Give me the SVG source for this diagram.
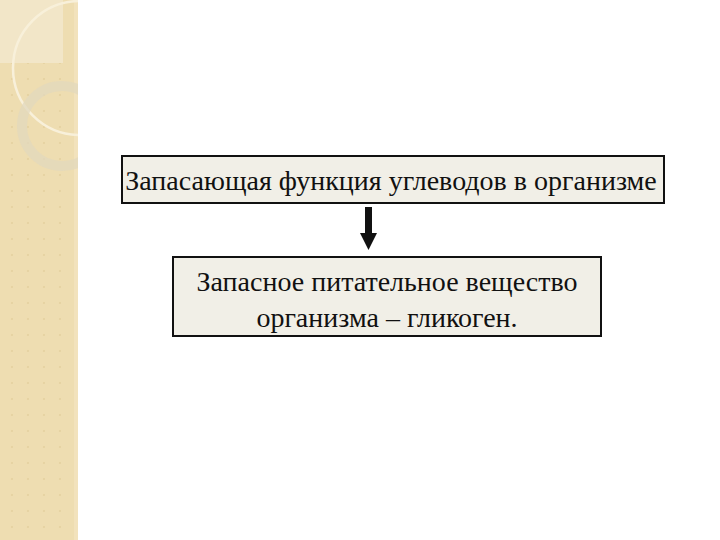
<svg xmlns="http://www.w3.org/2000/svg" width="720" height="540" viewBox="0 0 720 540">
<style>
.box{fill:#F1EFE7;stroke:#111;stroke-width:2}
.t{font-family:"Liberation Serif","Times New Roman",serif;font-size:28px;fill:#111;text-anchor:middle}
</style>
<defs>
<pattern id="dots" width="16" height="16" patternUnits="userSpaceOnUse">
<circle cx="12" cy="15" r="1.2" fill="#E6D3A3"/>
</pattern>
<clipPath id="strip"><rect x="0" y="0" width="78" height="540"/></clipPath>
</defs>
<rect width="720" height="540" fill="#fff"/>
<g id="decor" clip-path="url(#strip)">
<rect x="0" y="0" width="78" height="540" fill="#EEDDB1"/>
<rect x="0" y="0" width="78" height="540" fill="url(#dots)"/>
<rect x="0" y="0" width="63" height="63" fill="#F2E6C8"/>
<rect x="74" y="0" width="4" height="540" fill="#F2E2BC"/>
<circle cx="80" cy="68" r="67" fill="none" stroke="#F8F0DA" stroke-width="2.5"/>
<circle cx="62" cy="126" r="40" fill="none" stroke="#E2D8BE" stroke-width="10" opacity="0.75"/>
</g>
<g id="node1">
<rect class="box" x="122" y="156" width="542" height="47"/>
<text class="t" x="391" y="190">Запасающая функция углеводов в организме</text>
</g>
<g id="node2">
<rect class="box" x="173" y="257" width="428" height="79"/>
<text class="t" x="387" y="291">Запасное питательное вещество</text>
<text class="t" x="387" y="327">организма – гликоген.</text>
</g>
<g id="connectors">
<rect x="365" y="207" width="7" height="27" fill="#111"/>
<polygon points="360,233 377,233 368.5,250" fill="#111"/>
</g>
</svg>
